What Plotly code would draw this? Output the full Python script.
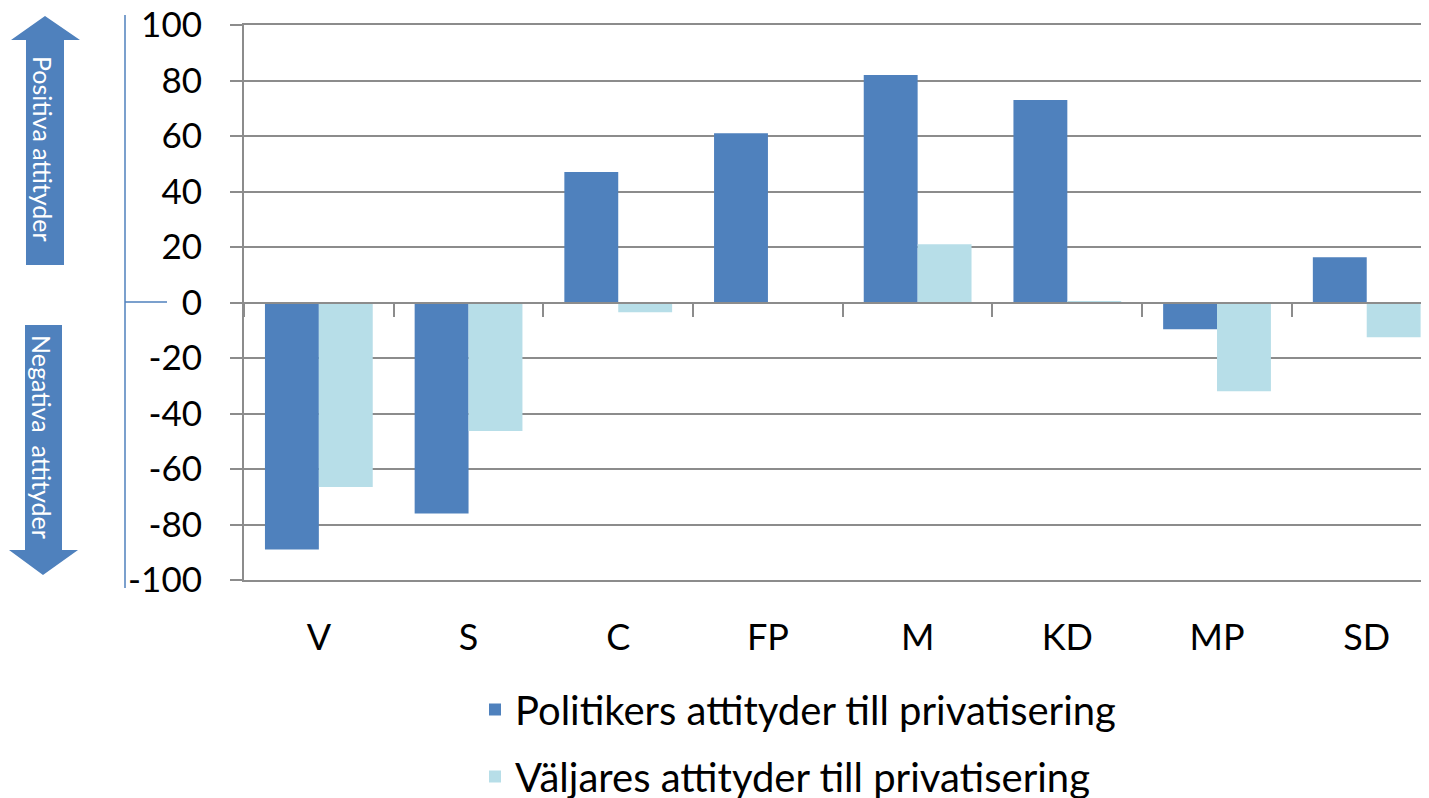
import plotly.graph_objects as go

parties = ["V", "S", "C", "FP", "M", "KD", "MP", "SD"]
politiker = [-89, -76, 47, 61, 82, 73, -9.6, 16.3]
valjare = [-66.5, -46.3, -3.5, 0, 21, 0.5, -32, -12.5]
y_ticks = [100, 80, 60, 40, 20, 0, -20, -40, -60, -80, -100]
legend_names = ["Politikers attityder till privatisering",
                "Väljares attityder till privatisering"]
arrow_texts = ["Positiva attityder", "Negativa  attityder"]

BLUE = "#4F81BD"
LIGHT = "#B7DEE8"
GRID = "#8C8C8C"
FONT = "Lato"

OFF = 8  # page body margin
W, H = 1429 - OFF, 798 - OFF
L, R, T, B = 244 - OFF, 0, 25 - OFF, 218
PW, PH = W - L - R, H - T - B


def px(x):
    # screen pixel -> paper fraction
    return (x - OFF - L) / PW


def py(y):
    return (H - B - (y - OFF)) / PH


fig = go.Figure()
fig.add_trace(go.Bar(x=parties, y=politiker, name=legend_names[0],
                     marker=dict(color=BLUE, line=dict(width=0)),
                     legendgroup="a"))
fig.add_trace(go.Bar(x=parties, y=valjare, name=legend_names[1],
                     marker=dict(color=LIGHT, line=dict(width=0)),
                     legendgroup="b"))
# helper trace for the zero-line category axis
fig.add_trace(go.Bar(x=parties, y=[None] * len(parties), xaxis="x2",
                     showlegend=False, hoverinfo="skip"))

xr = [-0.5, 7.416]
fig.update_layout(
    width=W, height=H,
    margin=dict(l=L, r=R, t=T, b=B, pad=0, autoexpand=False),
    paper_bgcolor="white", plot_bgcolor="white",
    barmode="group", bargap=0.28, bargroupgap=0,
    font=dict(family=FONT, color="black", size=35),
    xaxis=dict(type="category", categoryorder="array", categoryarray=parties,
               range=xr, showgrid=False, zeroline=False,
               showline=True, linecolor=GRID, linewidth=1.5, mirror=True,
               ticks="outside", ticklen=25, tickcolor="rgba(0,0,0,0)",
               tickfont=dict(size=36, family=FONT), automargin=False),
    xaxis2=dict(type="category", categoryorder="array", categoryarray=parties,
                range=xr, overlaying="x", anchor="free", position=0.5,
                showline=True, linecolor=GRID, linewidth=2,
                ticks="outside", tickson="boundaries", ticklen=13,
                tickcolor=GRID, tickwidth=2, showticklabels=False,
                showgrid=False, zeroline=False, automargin=False),
    yaxis=dict(range=[-100, 100], tickvals=y_ticks,
               ticktext=[str(v) for v in y_ticks],
               showgrid=True, gridcolor=GRID, gridwidth=1.5,
               zeroline=True, zerolinecolor=GRID, zerolinewidth=2,
               showline=True, linecolor=GRID, linewidth=2, mirror=False,
               ticks="outside", ticklen=12, tickcolor=GRID, tickwidth=2,
               tickfont=dict(size=35, family=FONT), ticklabelstandoff=21,
               ticklabeloverflow="allow", automargin=False),
    legend=dict(x=px(475), y=py(677), xanchor="left", yanchor="top",
                orientation="v", tracegroupgap=12,
                font=dict(size=40, family=FONT), bgcolor="rgba(0,0,0,0)"),
    showlegend=True,
)

# vertical blue bracket line with zero tick
fig.add_shape(type="line", xref="paper", yref="paper",
              x0=px(125), x1=px(125), y0=py(15), y1=py(588),
              line=dict(color=BLUE, width=1.5))
fig.add_shape(type="line", xref="paper", yref="paper",
              x0=px(125), x1=px(167), y0=py(302), y1=py(302),
              line=dict(color=BLUE, width=1.5))


def arrow_path(pts):
    return "M " + " L ".join(f"{px(a):.5f},{py(b):.5f}" for a, b in pts) + " Z"


up = [(26, 265), (26, 40), (11, 40), (45, 16), (80, 40), (64, 40), (64, 265)]
down = [(25, 325), (62, 325), (62, 550), (78, 550), (43, 575), (9, 550), (25, 550)]
for pts in (up, down):
    fig.add_shape(type="path", xref="paper", yref="paper",
                  path=arrow_path(pts), fillcolor=BLUE,
                  line=dict(width=0), layer="below")

fig.add_annotation(xref="paper", yref="paper", x=px(43), y=py(149),
                   xanchor="center", yanchor="middle",
                   text=arrow_texts[0], textangle=90, showarrow=False,
                   font=dict(color="white", size=25, family=FONT))
fig.add_annotation(xref="paper", yref="paper", x=px(42), y=py(437),
                   xanchor="center", yanchor="middle",
                   text=arrow_texts[1], textangle=90, showarrow=False,
                   font=dict(color="white", size=25, family=FONT))

fig.write_html("out.html")
